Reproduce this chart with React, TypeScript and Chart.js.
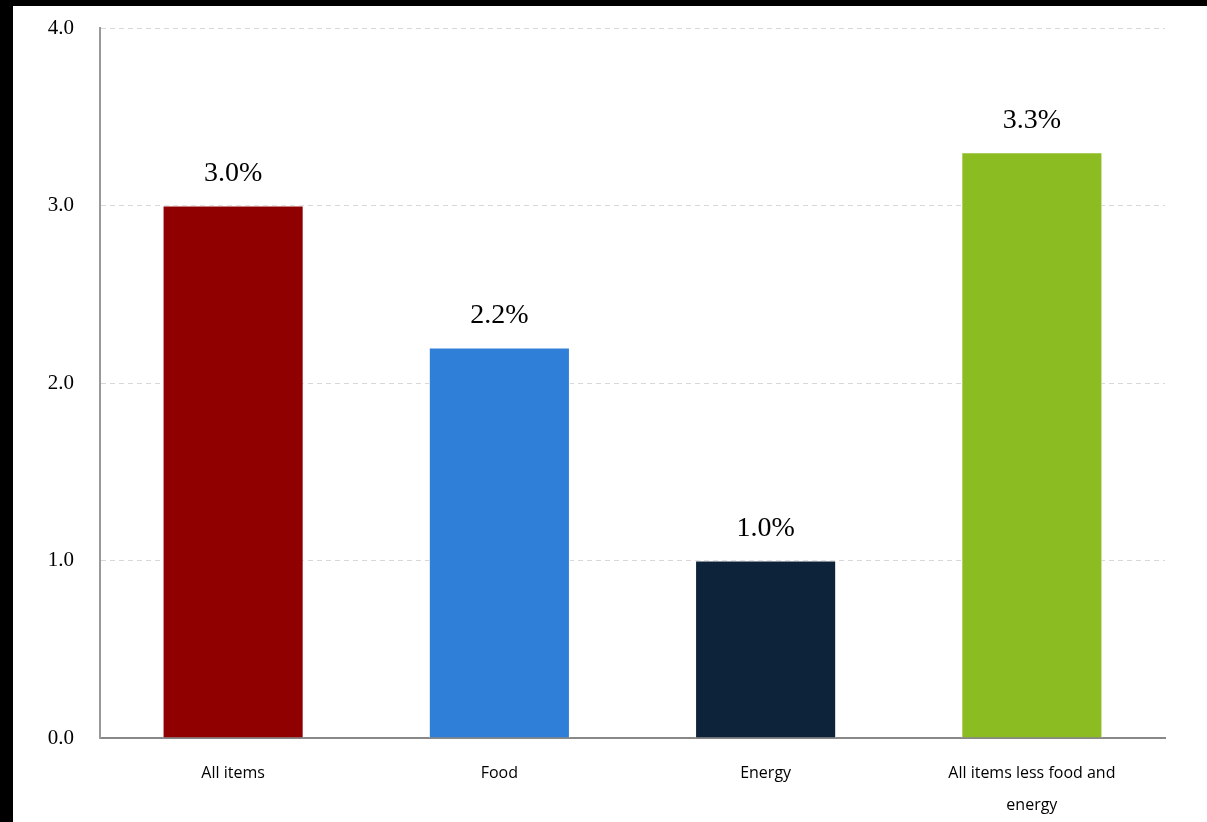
import React, { useEffect, useRef } from "react";
import { Chart, registerables } from "chart.js";

Chart.register(...registerables);

const categories: (string | string[])[] = ["All items", "Food", "Energy", ["All items less food and", "energy"]];
const values: number[] = [3.0, 2.2, 1.0, 3.3];
const barColors: string[] = ["#910000", "#2f7ed8", "#0d233a", "#8bbc21"];
const yTicks: number[] = [0, 1, 2, 3, 4];

const valueLabelPlugin = {
  id: "valueLabels",
  afterDatasetsDraw(chart: any) {
    const ctx = chart.ctx;
    const meta = chart.getDatasetMeta(0);
    ctx.save();
    ctx.font = '28px "Liberation Serif", serif';
    ctx.fillStyle = "#000";
    ctx.textAlign = "center";
    ctx.textBaseline = "middle";
    meta.data.forEach((bar: any, i: number) => {
      ctx.fillText(values[i].toFixed(1) + "%", bar.x, bar.y - 32);
    });
    ctx.restore();
  },
};

export default function App() {
  const ref = useRef<HTMLCanvasElement>(null);
  useEffect(() => {
    document.body.style.margin = "0";
    document.body.style.background = "#000";
    const chart = new Chart(ref.current!, {
      type: "bar",
      data: {
        labels: categories,
        datasets: [
          {
            data: values,
            backgroundColor: barColors,
            borderColor: "#ffffff",
            borderWidth: 1,
            barPercentage: 0.53,
            categoryPercentage: 1,
          },
        ],
      },
      options: {
        responsive: false,
        animation: false,
        devicePixelRatio: 1,
        layout: { padding: { top: 22, right: 42, left: 0, bottom: 0 } },
        plugins: { legend: { display: false }, tooltip: { enabled: false } },
        scales: {
          x: {
            afterFit(scale: any) {
              scale.height = 84;
            },
            grid: { display: false, drawTicks: false },
            border: { display: true, color: "#888888", width: 2 },
            ticks: {
              color: "#000",
              font: { family: '"Open Sans", sans-serif', size: 16, lineHeight: 2.0 },
              padding: 19,
              maxRotation: 0,
              autoSkip: false,
            },
          },
          y: {
            min: 0,
            max: 4,
            afterBuildTicks(scale: any) {
              scale.ticks = yTicks.map((v) => ({ value: v }));
            },
            afterFit(scale: any) {
              scale.width = 87;
              scale.paddingTop = 0;
              scale.paddingBottom = 0;
            },
            grid: {
              color: (c: any) => (c.tick && c.tick.value === 0 ? "rgba(0,0,0,0)" : "#d8d8d8"),
              drawTicks: false,
            },
            border: { display: true, color: "#999999", width: 2, dash: [5, 4] },
            ticks: {
              color: "#000",
              font: { family: '"Liberation Serif", serif', size: 21 },
              padding: 26,
              callback: (v: any) => Number(v).toFixed(1),
            },
          },
        },
      },
      plugins: [valueLabelPlugin],
    });
    return () => chart.destroy();
  }, []);
  return (
    <div style={{ position: "absolute", left: 13, top: 6, width: 1194, height: 816, background: "#fff" }}>
      <canvas ref={ref} width={1194} height={816} />
    </div>
  );
}
